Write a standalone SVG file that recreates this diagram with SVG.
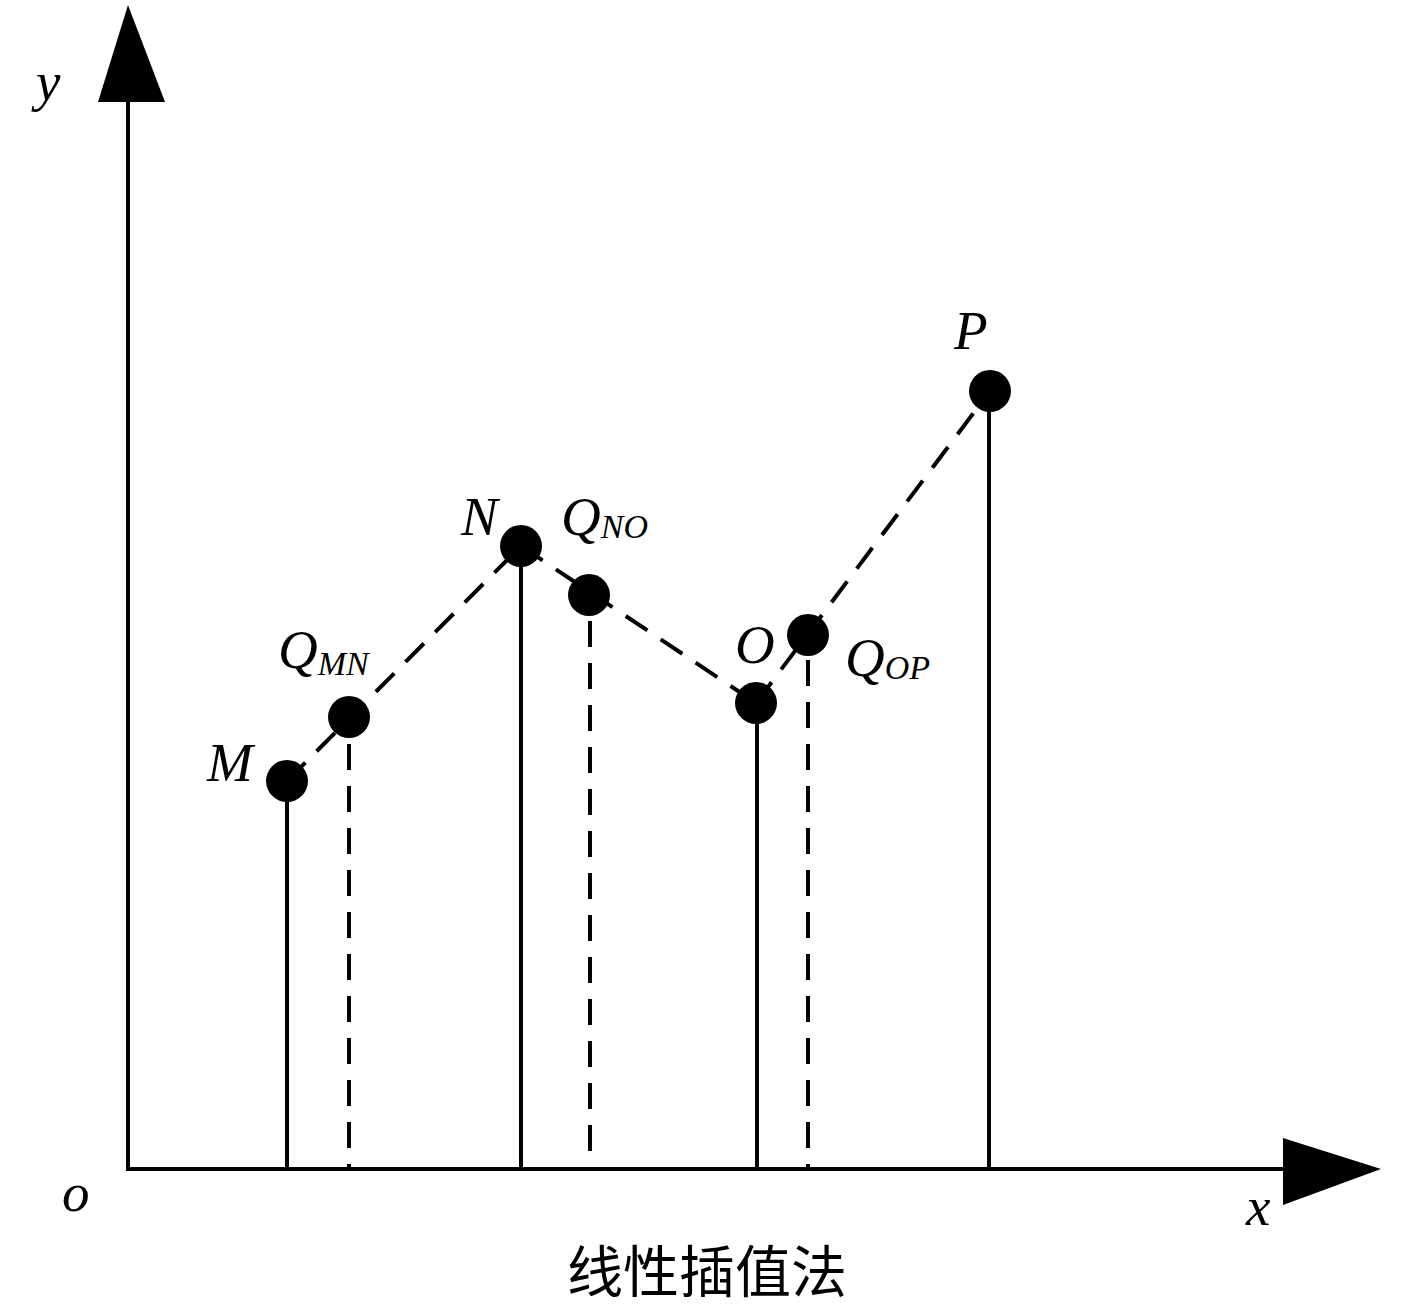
<svg xmlns="http://www.w3.org/2000/svg" width="1417" height="1311" viewBox="0 0 1417 1311">
<style>
.ax{stroke:#000;stroke-width:4;fill:none}
.solid{stroke:#000;stroke-width:4;fill:none}
.dash{stroke:#000;stroke-width:4;fill:none;stroke-dasharray:26 16}
.pt{fill:#000}
.lb{font-family:"Liberation Serif",serif;font-style:italic;font-size:55px;fill:#000}
.sub{font-size:34px}
.title{font-family:"Noto Sans CJK SC",sans-serif;font-size:56px;fill:#000}
</style>
<rect width="1417" height="1311" fill="#fff"/>
<g id="axes">
<line class="ax" x1="128" y1="1169" x2="128" y2="100"/>
<polygon points="128,5 98,102 165,102" fill="#000"/>
<line class="ax" x1="126" y1="1169" x2="1285" y2="1169"/>
<polygon points="1283,1138 1381,1169 1283,1205" fill="#000"/>
<text class="lb" x="36" y="100">y</text>
<text class="lb" x="62" y="1211">o</text>
<text class="lb" x="1246" y="1225">x</text>
</g>
<g id="connectors">
<line class="dash" x1="287" y1="781" x2="521" y2="546"/>
<line class="dash" x1="521" y1="546" x2="756" y2="703"/>
<line class="dash" x1="756" y1="703" x2="990" y2="391"/>
<line class="solid" x1="287" y1="781" x2="287" y2="1169"/>
<line class="solid" x1="521" y1="546" x2="521" y2="1169"/>
<line class="solid" x1="757" y1="703" x2="757" y2="1169"/>
<line class="solid" x1="989" y1="391" x2="989" y2="1169"/>
<line class="dash" x1="349" y1="744" x2="349" y2="1169"/>
<line class="dash" x1="590" y1="621" x2="590" y2="1169"/>
<line class="dash" x1="808" y1="660" x2="808" y2="1169"/>
</g>
<g id="M"><circle class="pt" cx="287" cy="781" r="21"/><text class="lb" x="207" y="781">M</text></g>
<g id="QMN"><circle class="pt" cx="349" cy="717" r="21"/><text class="lb" x="278" y="668">Q<tspan class="sub" dy="7">MN</tspan></text></g>
<g id="N"><circle class="pt" cx="521" cy="546" r="21"/><text class="lb" x="461" y="535">N</text></g>
<g id="QNO"><circle class="pt" cx="589" cy="595" r="21"/><text class="lb" x="561" y="535">Q<tspan class="sub" dy="3">NO</tspan></text></g>
<g id="O"><circle class="pt" cx="756" cy="703" r="21"/><text class="lb" x="735" y="663">O</text></g>
<g id="QOP"><circle class="pt" cx="808" cy="635" r="21"/><text class="lb" x="845" y="676">Q<tspan class="sub" dy="3">OP</tspan></text></g>
<g id="P"><circle class="pt" cx="990" cy="391" r="21"/><text class="lb" x="954" y="349">P</text></g>
<text class="title" x="707" y="1292" text-anchor="middle">线性插值法</text>
</svg>
